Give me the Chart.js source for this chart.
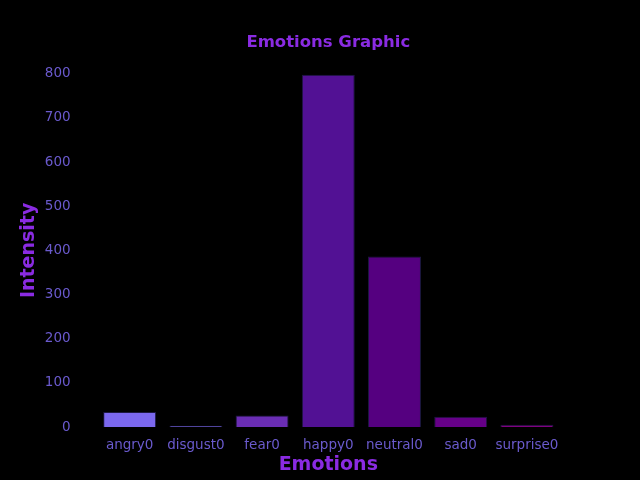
<!DOCTYPE html>
<html>
<head>
<meta charset="utf-8">
<script src="https://cdn.jsdelivr.net/npm/chart.js@4"></script>
<style>
  html, body { margin: 0; padding: 0; background: #000; }
  #wrap { width: 640px; height: 480px; }
</style>
</head>
<body>
<div id="wrap"><canvas id="emotionsChart" width="640" height="480"></canvas></div>
<script>
const emotions = ['angry0', 'disgust0', 'fear0', 'happy0', 'neutral0', 'sad0', 'surprise0'];
const intensity = [34, 3, 26, 798, 386, 23, 5];
const barColors = ['#7b68ee', '#6a5acd', '#6a2db4', '#521194', '#550080', '#660088', '#800080'];
const yTicks = [0, 100, 200, 300, 400, 500, 600, 700, 800];

const tickColor = '#6a5acd';
const labelColor = '#8a2be2';
const tickFont = { family: 'DejaVu Sans', size: 13.5 };

const ctx = document.getElementById('emotionsChart').getContext('2d');
const emotionsChart = new Chart(ctx, {
    type: 'bar',
    data: {
        labels: emotions,
        datasets: [{
            label: 'Intensity',
            data: intensity,
            backgroundColor: barColors,
            borderColor: '#1c1840',
            borderWidth: 1,
            barPercentage: 0.8,
            categoryPercentage: 1.0
        }]
    },
    options: {
        responsive: false,
        animation: false,
        layout: { padding: { left: 18, right: 80, top: 0, bottom: 4 } },
        plugins: {
            legend: { display: false },
            tooltip: { enabled: false }
        },
        scales: {
            // top axis only carries the chart title, centred over the plot area
            top: {
                type: 'category',
                position: 'top',
                labels: emotions,
                grid: { display: false, drawTicks: false },
                border: { display: false },
                ticks: { display: false },
                title: {
                    display: true,
                    text: 'Emotions Graphic',
                    color: labelColor,
                    font: { family: 'DejaVu Sans', size: 16.5, weight: 'bold' },
                    padding: { top: 33, bottom: 21 }
                }
            },
            x: {
                // grid hidden, tickLength only used as spacing
                grid: { display: false, tickLength: 10 },
                border: { display: false },
                ticks: { color: tickColor, font: tickFont, maxRotation: 0, padding: 0, autoSkip: false },
                title: {
                    display: true,
                    text: 'Emotions',
                    color: labelColor,
                    font: { family: 'DejaVu Sans', size: 19, weight: 'bold' },
                    padding: { top: 0, bottom: 0 }
                }
            },
            y: {
                min: 0,
                max: 800,
                grid: { display: false, tickLength: 22 },
                border: { display: false },
                afterBuildTicks: axis => { axis.ticks = yTicks.map(v => ({ value: v })); },
                ticks: { color: tickColor, font: tickFont, padding: 4 },
                title: {
                    display: true,
                    text: 'Intensity',
                    color: labelColor,
                    font: { family: 'DejaVu Sans', size: 19, weight: 'bold' },
                    padding: { top: 0, bottom: 0 }
                }
            }
        }
    }
});
</script>
</body>
</html>
